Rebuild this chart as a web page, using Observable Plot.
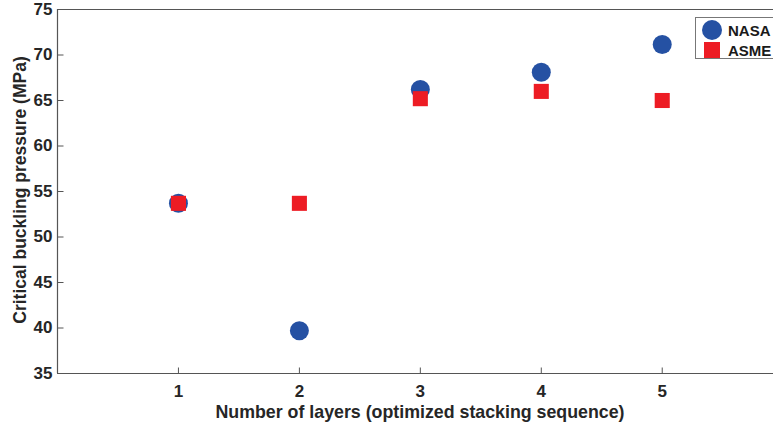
<!DOCTYPE html>
<html>
<head>
<meta charset="utf-8">
<script src="https://cdn.jsdelivr.net/npm/d3@7"></script>
<script src="https://cdn.jsdelivr.net/npm/@observablehq/plot@0.6"></script>
<style>
  html, body { margin: 0; padding: 0; background: #fff; overflow: hidden; }
  #wrap { position: relative; width: 773px; height: 425px; overflow: hidden; }
  #legend {
    position: absolute; left: 695px; top: 17px; width: 100px; height: 42px;
    border: 1px solid #777; background: #fff; box-sizing: border-box;
    font-family: "Liberation Sans", Arial, sans-serif; font-weight: bold; font-size: 15px; color: #1a1a1a;
  }
  .item { position: absolute; left: 0; height: 20px; display: flex; align-items: center; }
  .lab { position: absolute; left: 32px; white-space: nowrap; }
</style>
</head>
<body>
<div id="wrap"></div>
<script>
const layers = [1, 2, 3, 4, 5];
const nasa = [53.7, 39.7, 66.2, 68.1, 71.15];
const asme = [53.7, 53.7, 65.2, 66.0, 65.0];
const seriesNames = ["NASA", "ASME"];
const seriesColors = ["#2551a3", "#ed1c24"];
const yTicks = [35, 40, 45, 50, 55, 60, 65, 70, 75];
const xTicks = [1, 2, 3, 4, 5];

const nasaData = layers.map((x, i) => ({x, y: nasa[i]}));
const asmeData = layers.map((x, i) => ({x, y: asme[i]}));

const font = '"Liberation Sans", Arial, sans-serif';
const textColor = "#262626";
const axisColor = "#555";
const yMin = yTicks[0], yMax = yTicks[yTicks.length - 1];

// inward tick symbols (MATLAB style)
const tickUp = { draw(ctx) { ctx.moveTo(0, 0); ctx.lineTo(0, -6); } };
const tickRight = { draw(ctx) { ctx.moveTo(0, 0); ctx.lineTo(6, 0); } };

const chart = Plot.plot({
  width: 773,
  height: 425,
  marginLeft: 57,
  marginRight: 0,
  marginTop: 9,
  marginBottom: 52,
  style: { fontFamily: font, fontWeight: "bold", fontSize: "17px", color: textColor, background: "#fff" },
  x: { domain: [0, 5.92] },
  y: { domain: [yMin, yMax] },
  marks: [
    Plot.ruleX([0], { stroke: axisColor, strokeWidth: 1.2 }),
    Plot.ruleY([yMin, yMax], { stroke: axisColor, strokeWidth: 1.2 }),
    Plot.dot(xTicks, { x: d => d, y: () => yMin, symbol: tickUp, r: 3, stroke: axisColor, strokeWidth: 1, fill: "none" }),
    Plot.dot(yTicks.slice(1, -1), { x: () => 0, y: d => d, symbol: tickRight, r: 3, stroke: axisColor, strokeWidth: 1, fill: "none" }),
    Plot.axisX({ ticks: xTicks, tickSize: 0, tickPadding: 11, tickFormat: "d", fill: textColor, fontSize: 17, label: null }),
    Plot.axisY({ ticks: yTicks, anchor: "left", tickSize: 0, tickPadding: 5, tickFormat: "d", fill: textColor, fontSize: 17, label: null }),
    Plot.dot(nasaData, { x: "x", y: "y", r: 9.5, symbol: "circle", fill: seriesColors[0] }),
    Plot.dot(asmeData, { x: "x", y: "y", r: 8.5, symbol: "square", fill: seriesColors[1] })
  ]
});

const svg = d3.select(chart);
svg.append("text")
  .attr("x", 420).attr("y", 418)
  .attr("text-anchor", "middle")
  .attr("font-family", font).attr("font-weight", "bold").attr("font-size", 17.8)
  .attr("fill", textColor)
  .text("Number of layers (optimized stacking sequence)");
svg.append("text")
  .attr("transform", "translate(26,190) rotate(-90)")
  .attr("text-anchor", "middle")
  .attr("font-family", font).attr("font-weight", "bold").attr("font-size", 17.5)
  .attr("fill", textColor)
  .text("Critical buckling pressure (MPa)");

const wrap = document.getElementById("wrap");
wrap.appendChild(chart);

const legend = document.createElement("div");
legend.id = "legend";
seriesNames.forEach((name, i) => {
  const item = document.createElement("div");
  item.className = "item";
  item.style.top = (i === 0 ? 2 : 22) + "px";
  item.style.width = "100px";
  const sym = document.createElement("span");
  if (i === 0) {
    sym.style.cssText = `position:absolute;left:6px;width:20px;height:20px;border-radius:50%;background:${seriesColors[i]}`;
  } else {
    sym.style.cssText = `position:absolute;left:8px;top:2px;width:16px;height:16px;background:${seriesColors[i]}`;
  }
  const lab = document.createElement("span");
  lab.className = "lab";
  lab.textContent = name;
  item.appendChild(sym);
  item.appendChild(lab);
  legend.appendChild(item);
});
wrap.appendChild(legend);
</script>
</body>
</html>
